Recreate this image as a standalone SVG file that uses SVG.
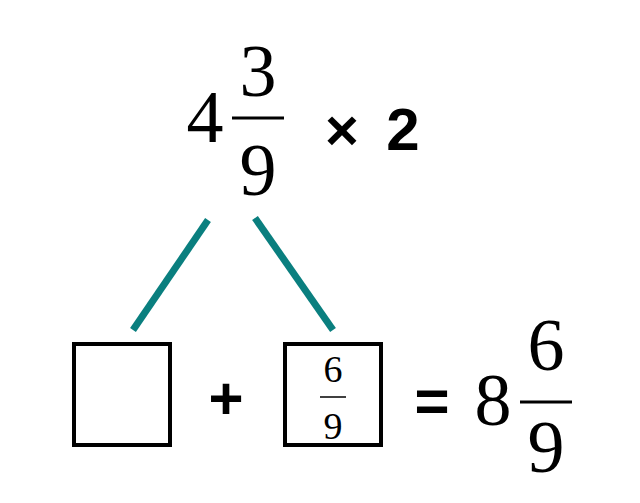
<svg xmlns="http://www.w3.org/2000/svg" width="640" height="503" viewBox="0 0 640 503">
<style>
.s{font-family:"Liberation Serif",serif;fill:#000;text-anchor:middle}
.b{font-family:"Liberation Sans",sans-serif;font-weight:bold;fill:#000;text-anchor:middle}
.bar{stroke:#000;stroke-width:3}
.box{fill:#fff;stroke:#000;stroke-width:4}
</style>
<rect width="640" height="503" fill="#fff"/>
<g id="top">
<text class="s" x="205" y="142" font-size="74">4</text>
<text class="s" x="258" y="96" font-size="74">3</text>
<line class="bar" x1="232" y1="118" x2="284" y2="118"/>
<text class="s" x="258" y="195" font-size="74">9</text>
<text class="b" x="342" y="150" font-size="58">×</text>
<text class="b" x="403" y="150" font-size="60">2</text>
</g>
<g id="connectors" stroke="#0a7f7f" stroke-width="7">
<line x1="208" y1="220" x2="133" y2="330"/>
<line x1="255" y1="218" x2="333" y2="330"/>
</g>
<g id="box1"><rect class="box" x="74" y="344" width="96" height="101"/></g>
<g id="plus"><text class="b" x="226" y="419" font-size="60">+</text></g>
<g id="box2"><rect class="box" x="285" y="344" width="96" height="101"/>
<text class="s" x="333" y="382" font-size="38">6</text>
<line x1="320" y1="397" x2="346" y2="397" stroke="#000" stroke-width="1.5"/>
<text class="s" x="333" y="439" font-size="38">9</text></g>
<g id="result">
<text class="b" x="432" y="421" font-size="60">=</text>
<text class="s" x="493" y="425" font-size="74">8</text>
<text class="s" x="546" y="370" font-size="74">6</text>
<line class="bar" x1="520" y1="402" x2="572" y2="402"/>
<text class="s" x="546" y="472" font-size="74">9</text>
</g>
</svg>
